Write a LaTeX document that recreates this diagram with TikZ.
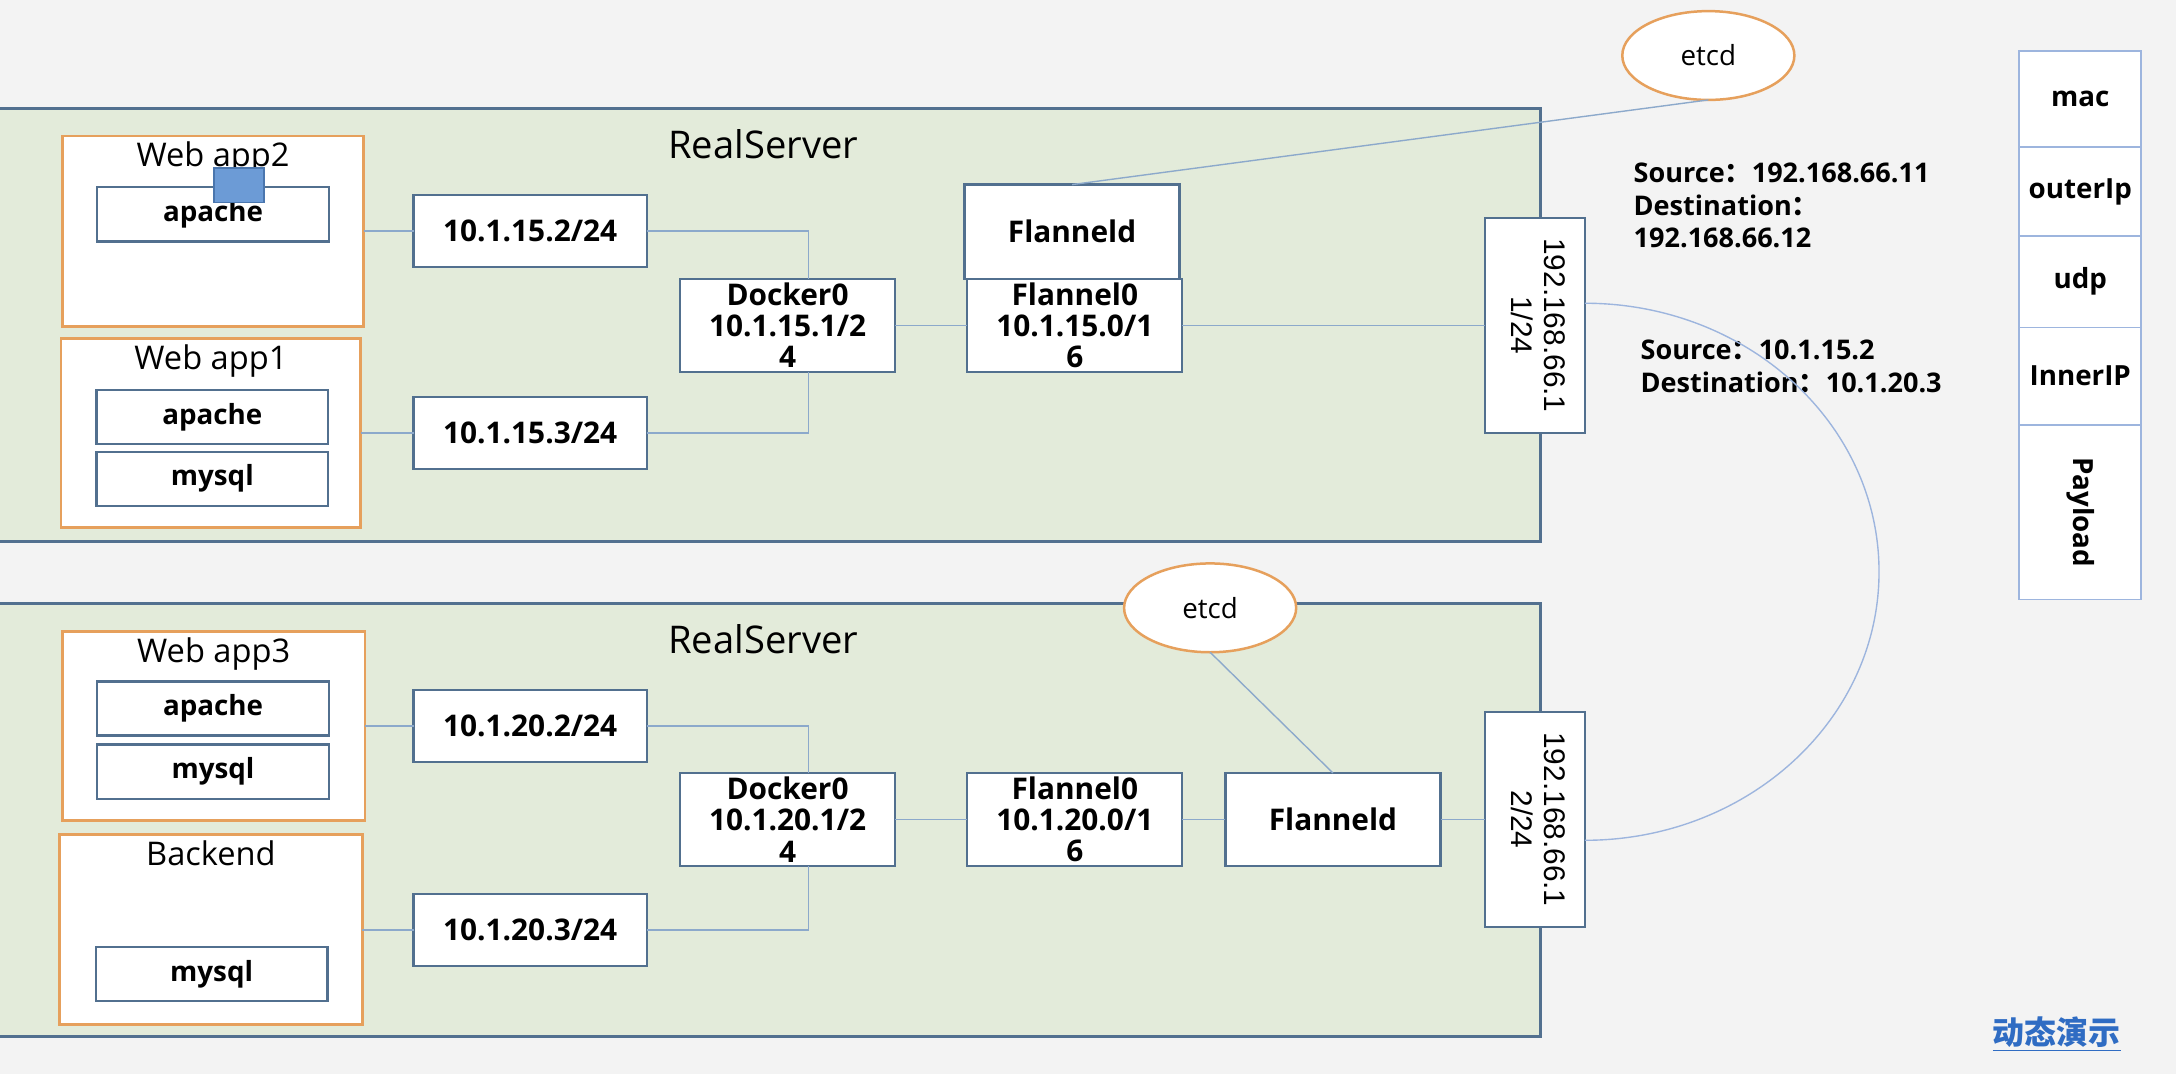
\documentclass[tikz,border=0pt]{standalone}
\usepackage{fontspec}
\setmainfont{Open Sans}
\newfontfamily\cjk{Noto Sans CJK SC}
\newfontfamily\arialish{Liberation Sans}
\usetikzlibrary{positioning,shapes.geometric}

\definecolor{bgcol}{HTML}{F3F3F3}
\definecolor{srvgreen}{HTML}{E3EBDA}
\definecolor{edgeblue}{HTML}{52708F}
\definecolor{apporange}{HTML}{E6A05C}
\definecolor{wireblue}{HTML}{8CA9CB}
\definecolor{stackblue}{HTML}{9DB5DE}
\definecolor{pktfill}{HTML}{6C9BD6}
\definecolor{pktedge}{HTML}{4A76AE}
\definecolor{cnblue}{HTML}{2F6CC3}

\begin{document}
\begin{tikzpicture}[
    x=1pt, y=-1pt,
    server/.style={draw=edgeblue, fill=srvgreen, line width=2pt,
                   minimum width=1120pt, minimum height=312pt, inner sep=0pt, outer sep=0pt},
    app/.style={draw=apporange, fill=white, line width=2pt,
                minimum width=217pt, minimum height=137pt, inner sep=0pt, outer sep=0pt},
    apptitle/.style={inner sep=0pt, font=\fontsize{23.5}{27}\selectfont},
    svc/.style={draw=edgeblue, fill=white, line width=1.6pt, minimum width=167pt,
                minimum height=39pt, inner sep=0pt, outer sep=0pt,
                font=\fontsize{20}{23}\selectfont\bfseries},
    ipbox/.style={svc, minimum width=168pt, minimum height=52pt,
                  font=\fontsize{21.5}{24}\selectfont\bfseries},
    dev/.style={svc, minimum width=155pt, minimum height=67pt, align=center,
                font=\fontsize{21.5}{22.5}\selectfont\bfseries},
    eth/.style={svc, minimum width=72pt, minimum height=155pt,
                font=\arialish\fontsize{21.5}{24}\selectfont},
    etcdnode/.style={ellipse, draw=apporange, fill=white, line width=1.8pt,
                     minimum width=124pt, minimum height=64pt, inner sep=0pt, outer sep=0pt,
                     font=\fontsize{20}{24}\selectfont},
    pktlayer/.style={draw=stackblue, fill=white, line width=1.4pt, minimum width=88pt,
                     inner sep=0pt, outer sep=0pt, font=\fontsize{20}{23}\selectfont\bfseries},
    link/.style={draw=wireblue, line width=1pt},
    srcnote/.style={inner sep=0pt, align=left, font=\fontsize{19.5}{23.5}\selectfont\bfseries}
]
\fill[bgcol] (0,0) rectangle (1568,774);
\useasboundingbox (0,0) rectangle (1568,774);

% first host
\node[server] (srv1) at (550,234) {};
\node[apptitle, font=\fontsize{27.5}{31}\selectfont, below=15pt of srv1.north] (srv1name) {RealServer};

\node[app] (app2) at (153.5,166.5) {};
\node[apptitle, below=4pt of app2.north] (app2name) {Web app2};
\node[svc] (apache2) at (153.5,154.5) {apache};
\node[draw=pktedge, fill=pktfill, line width=1.2pt, minimum width=36pt,
      minimum height=25pt, inner sep=0pt] (pkt) at (172,133.5) {};

\node[app, minimum width=216pt, minimum height=136pt] (app1) at (152,312) {};
\node[apptitle, below=4pt of app1.north] (app1name) {Web app1};
\node[svc] (apache1) at (153,300.5) {apache};
\node[svc] (mysql1) at (153,345) {mysql};

\node[ipbox] (ip152) at (382,166.5) {10.1.15.2/24};
\node[ipbox] (ip153) at (382,312) {10.1.15.3/24};
\node[dev] (dock1) at (567.5,234.5) {Docker0\\10.1.15.1/2\\4};
\node[dev] (fl0a) at (774.5,234.5) {Flannel0\\10.1.15.0/1\\6};
\node[dev, minimum height=68pt] (fld1) at (772.5,167) {Flanneld};
\node[eth] (eth1) at (1106,234.5)
  {\rotatebox{-90}{\begin{tabular}{@{}c@{}}192.168.66.1\\1/24\end{tabular}}};
\node[etcdnode] (etcd1) at (1231,40) {etcd};

% second host
\node[server] (srv2) at (550,591) {};
\node[apptitle, font=\fontsize{27.5}{31}\selectfont, below=15pt of srv2.north] (srv2name) {RealServer};
\node[etcdnode] (etcd2) at (872,438) {etcd};

\node[app, minimum width=218pt, minimum height=136pt] (app3) at (154,523) {};
\node[apptitle, below=4pt of app3.north] (app3name) {Web app3};
\node[svc] (apache3) at (153.5,510.5) {apache};
\node[svc] (mysql3) at (153.5,556) {mysql};

\node[app, minimum width=218pt] (backend) at (152,670) {};
\node[apptitle, below=4pt of backend.north] (backendname) {Backend};
\node[svc] (mysql4) at (152.5,702) {mysql};

\node[ipbox] (ip202) at (382,523) {10.1.20.2/24};
\node[ipbox] (ip203) at (382,670) {10.1.20.3/24};
\node[dev] (dock2) at (567.5,590.5) {Docker0\\10.1.20.1/2\\4};
\node[dev] (fl0b) at (774.5,590.5) {Flannel0\\10.1.20.0/1\\6};
\node[dev] (fld2) at (960.5,590.5) {Flanneld};
\node[eth] (eth2) at (1106,590.5)
  {\rotatebox{-90}{\begin{tabular}{@{}c@{}}192.168.66.1\\2/24\end{tabular}}};

% packet layout
\node[pktlayer, minimum height=69pt] (mac) at (1499,71.5) {mac};
\node[pktlayer, minimum height=64pt, below=0pt of mac] (outerip) {outerIp};
\node[pktlayer, minimum height=66pt, below=0pt of outerip] (udp) {udp};
\node[pktlayer, minimum height=70pt, below=0pt of udp] (innerip) {InnerIP};
\node[pktlayer, minimum height=126pt, below=0pt of innerip] (payload) {\rotatebox{-90}{Payload}};

\node[srcnote, anchor=west] (outerhdr) at (1177,148)
  {Source{\cjk ：}192.168.66.11\\Destination{\cjk ：}\\192.168.66.12};
\node[srcnote, anchor=west] (innerhdr) at (1182,264)
  {Source{\cjk ：}10.1.15.2\\Destination{\cjk ：}10.1.20.3};

\node[inner sep=0pt, text=cnblue, font=\cjk\bfseries\fontsize{23}{26}\selectfont] (demo)
  at (1482,745) {\underline{动态演示}};

% wires
\draw[link] (app2) -- (ip152);
\draw[link] (app1) -- (ip153);
\draw[link] (ip152.east) -| ([xshift=15pt]dock1.north);
\draw[link] (ip153.east) -| ([xshift=15pt]dock1.south);
\draw[link] (dock1) -- (fl0a);
\draw[link] (fl0a) -- (eth1);
\draw[link] (etcd1.south) -- (fld1.north);

\draw[link] (app3) -- (ip202);
\draw[link] (backend) -- (ip203);
\draw[link] (ip202.east) -| ([xshift=15pt]dock2.north);
\draw[link] (ip203.east) -| ([xshift=15pt]dock2.south);
\draw[link] (dock2) -- (fl0b);
\draw[link] (fl0b) -- (fld2);
\draw[link] (fld2) -- (eth2);
\draw[link] (etcd2.south) -- (fld2.north);

\draw[link, draw=stackblue] ([yshift=16pt]eth1.east)
  arc[start angle=90, end angle=-90, x radius=212pt, y radius=193.5pt];
\end{tikzpicture}
\end{document}
